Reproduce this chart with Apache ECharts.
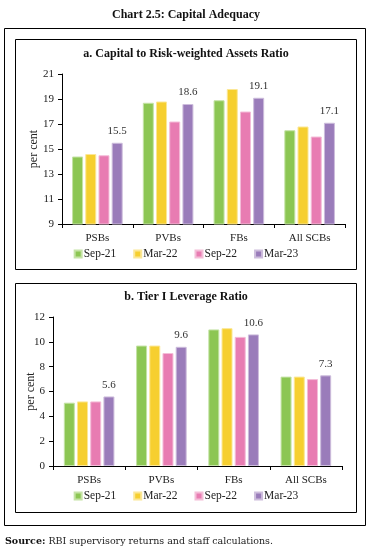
<!DOCTYPE html>
<html>
<head>
<meta charset="utf-8">
<script src="https://cdn.jsdelivr.net/npm/echarts@6/dist/echarts.min.js"></script>
<style>
html,body{margin:0;padding:0;background:#fff;}
#c{width:372px;height:550px;}
</style>
</head>
<body>
<div id="c"></div>
<script>
var categories = ['PSBs', 'PVBs', 'FBs', 'All SCBs'];
var seriesNames = ['Sep-21', 'Mar-22', 'Sep-22', 'Mar-23'];
// Panel a: Capital to Risk-weighted Assets Ratio
var crarSep21 = [14.4, 18.7, 18.9, 16.5];
var crarMar22 = [14.6, 18.8, 19.8, 16.8];
var crarSep22 = [14.5, 17.2, 18.0, 16.0];
var crarMar23 = [15.5, 18.6, 19.1, 17.1];
// Panel b: Tier I Leverage Ratio
var levSep21 = [5.1, 9.7, 11.0, 7.2];
var levMar22 = [5.2, 9.7, 11.1, 7.2];
var levSep22 = [5.2, 9.1, 10.4, 7.0];
var levMar23 = [5.6, 9.6, 10.6, 7.3];
var yTicksA = {min: 9, max: 21, interval: 2};
var yTicksB = {min: 0, max: 12, interval: 2};

var colors = ['#8cc653', '#f6cf2f', '#e87cb2', '#9a7cba'];
var borders = ['#c5e3a6', '#fbe796', '#f4bdd8', '#cdbddc'];
var FONT = '"Liberation Serif", "DejaVu Serif", serif';

function mkSeries(name, data, idx, axisIdx, labelled) {
  return {
    name: name, type: 'bar', data: data,
    xAxisIndex: axisIdx, yAxisIndex: axisIdx,
    barWidth: 11, barGap: '20%',
    itemStyle: {color: colors[idx], borderColor: borders[idx], borderWidth: 1},
    label: labelled ? {show: true, position: 'top', distance: 6, color: '#333', fontFamily: FONT, fontSize: 11,
      formatter: function (p) { return p.value.toFixed(1); }} : {show: false},
    emphasis: {disabled: true},
    animation: false
  };
}

function mkX(gi) {
  return {
    type: 'category', gridIndex: gi, data: categories,
    axisLine: {lineStyle: {color: '#000', width: 1}},
    axisTick: {show: true, length: 4, lineStyle: {color: '#000'}},
    axisLabel: {color: '#222', fontFamily: FONT, fontSize: 11, margin: 9}
  };
}
function mkY(gi, t) {
  return {
    type: 'value', gridIndex: gi, min: t.min, max: t.max, interval: t.interval,
    name: 'per cent', nameLocation: 'middle', nameGap: gi === 0 ? 22 : 16, nameRotate: 90,
    nameMoveOverlap: false,
    nameTextStyle: {color: '#222', fontFamily: FONT, fontSize: 12},
    axisLine: {show: true, lineStyle: {color: '#000', width: 1}},
    axisTick: {show: true, length: 4, lineStyle: {color: '#000'}},
    splitLine: {show: false},
    axisLabel: {color: '#222', fontFamily: FONT, fontSize: 11, margin: 8}
  };
}
function mkLegend(top) {
  return {
    data: seriesNames, top: top, left: 'center', itemWidth: 7, itemHeight: 7, itemGap: 17,
    icon: 'rect', textStyle: {color: '#222', fontFamily: FONT, fontSize: 11.5, padding: [0, 0, 0, -3]},
    selectedMode: false
  };
}

var chart = echarts.init(document.getElementById('c'), null, {renderer: 'canvas'});
chart.setOption({
  animation: false,
  color: colors,
  grid: [
    {left: 62, right: 27, top: 74, height: 150},
    {left: 53, right: 30, top: 317, height: 149}
  ],
  xAxis: [mkX(0), mkX(1)],
  yAxis: [mkY(0, yTicksA), mkY(1, yTicksB)],
  legend: [mkLegend(243), mkLegend(485)],
  series: [
    mkSeries(seriesNames[0], crarSep21, 0, 0, false),
    mkSeries(seriesNames[1], crarMar22, 1, 0, false),
    mkSeries(seriesNames[2], crarSep22, 2, 0, false),
    mkSeries(seriesNames[3], crarMar23, 3, 0, true),
    mkSeries(seriesNames[0], levSep21, 0, 1, false),
    mkSeries(seriesNames[1], levMar22, 1, 1, false),
    mkSeries(seriesNames[2], levSep22, 2, 1, false),
    mkSeries(seriesNames[3], levMar23, 3, 1, true)
  ],
  graphic: [
    {type: 'text', left: 'center', top: 9, style: {text: 'Chart 2.5: Capital Adequacy', fill: '#111', font: 'bold 12px ' + FONT}},
    {type: 'rect', shape: {x: 4.5, y: 28.5, width: 361, height: 497}, style: {fill: 'none', stroke: '#000', lineWidth: 1}, silent: true},
    {type: 'rect', shape: {x: 15.5, y: 39.5, width: 341, height: 230}, style: {fill: 'none', stroke: '#000', lineWidth: 1}, silent: true},
    {type: 'rect', shape: {x: 15.5, y: 283.5, width: 341, height: 229}, style: {fill: 'none', stroke: '#000', lineWidth: 1}, silent: true},
    {type: 'text', left: 'center', top: 48, style: {text: 'a. Capital to Risk-weighted Assets Ratio', fill: '#111', font: 'bold 12px ' + FONT}},
    {type: 'text', left: 'center', top: 291, style: {text: 'b. Tier I Leverage Ratio', fill: '#111', font: 'bold 12px ' + FONT}},
    {type: 'text', left: 5, top: 537, style: {
      text: '{b|Source:} RBI supervisory returns and staff calculations.',
      fill: '#222', font: '9.5px "DejaVu Serif", serif',
      rich: {b: {fontWeight: 'bold', fontFamily: '"DejaVu Serif", serif', fontSize: 9.5, fill: '#111'}}
    }}
  ]
});
</script>
</body>
</html>
